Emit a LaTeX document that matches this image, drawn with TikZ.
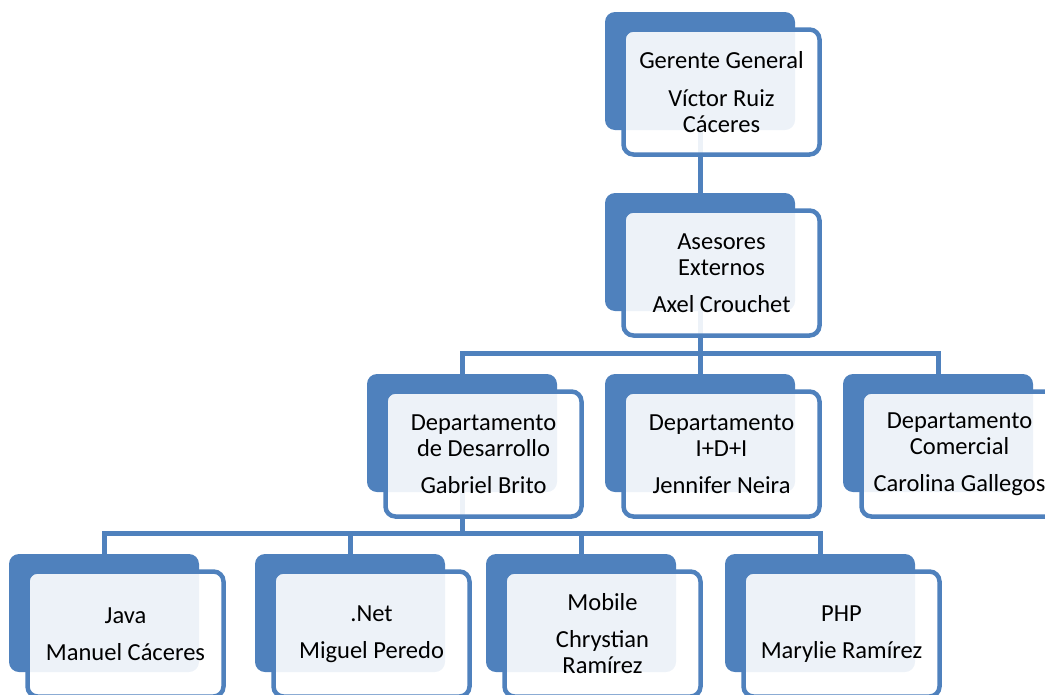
\documentclass[tikz,border=0pt]{standalone}
\usepackage{fontspec}
\setmainfont{Carlito}
\definecolor{orgblue}{HTML}{4F81BD}
\tikzset{
  backbox/.style={fill=orgblue, draw=none, rounded corners=10pt,
    minimum width=190pt, minimum height=118pt, inner sep=0pt},
  frontbox/.style={draw=orgblue, line width=4.5pt, fill=white, fill opacity=0.9,
    text opacity=1, rounded corners=10pt, minimum width=196pt, minimum height=125pt,
    inner sep=0pt, align=center, font=\fontsize{24.5}{26}\selectfont},
  link/.style={draw=orgblue, line width=5pt},
}
% back tile of a unit, placed by its centre
\newcommand{\unitback}[3]{\node[backbox] (#1) at (#2,#3) {};}
% front card of a unit, shifted down and right of the back tile
\newcommand{\unitfront}[2]{\node[frontbox] (#1f) at ($(#1)+(21.5,21)$) {#2};}
\usetikzlibrary{calc}
\begin{document}
\begin{tikzpicture}[x=1pt,y=-1pt]
  \useasboundingbox (0,0) rectangle (1045,694);

  % back tiles
  \unitback{gg}{700}{71}
  \unitback{ase}{700}{252}
  \unitback{dev}{462}{433}
  \unitback{idi}{700}{433}
  \unitback{com}{938}{433}
  \unitback{java}{104}{613}
  \unitback{net}{350}{613}
  \unitback{mob}{581}{613}
  \unitback{php}{820}{613}

  % bus levels
  \coordinate (busA) at (700,353);
  \coordinate (busB) at (462,533);

  % connectors
  \draw[link] (gg.center) -- (ase.center);
  \foreach \c in {dev,idi,com}
    \draw[link] (ase.center) -- (ase.center |- busA) -| (\c.center);
  \foreach \c in {java,net,mob,php}
    \draw[link] (dev.center) -- (dev.center |- busB) -| (\c.center);

  % front cards
  \unitfront{gg}{Gerente General\\[12pt]Víctor Ruiz\\Cáceres}
  \unitfront{ase}{Asesores\\Externos\\[11pt]Axel Crouchet}
  \unitfront{dev}{Departamento\\de Desarrollo\\[11pt]Gabriel Brito}
  \unitfront{idi}{Departamento\\I+D+I\\[11pt]Jennifer Neira}
  \unitfront{com}{Departamento\\Comercial\\[11pt]Carolina Gallegos}
  \unitfront{java}{Java\\[11pt]Manuel Cáceres}
  \unitfront{net}{.Net\\[11pt]Miguel Peredo}
  \unitfront{mob}{Mobile\\[11pt]Chrystian\\Ramírez}
  \unitfront{php}{PHP\\[11pt]Marylie Ramírez}
\end{tikzpicture}
\end{document}
